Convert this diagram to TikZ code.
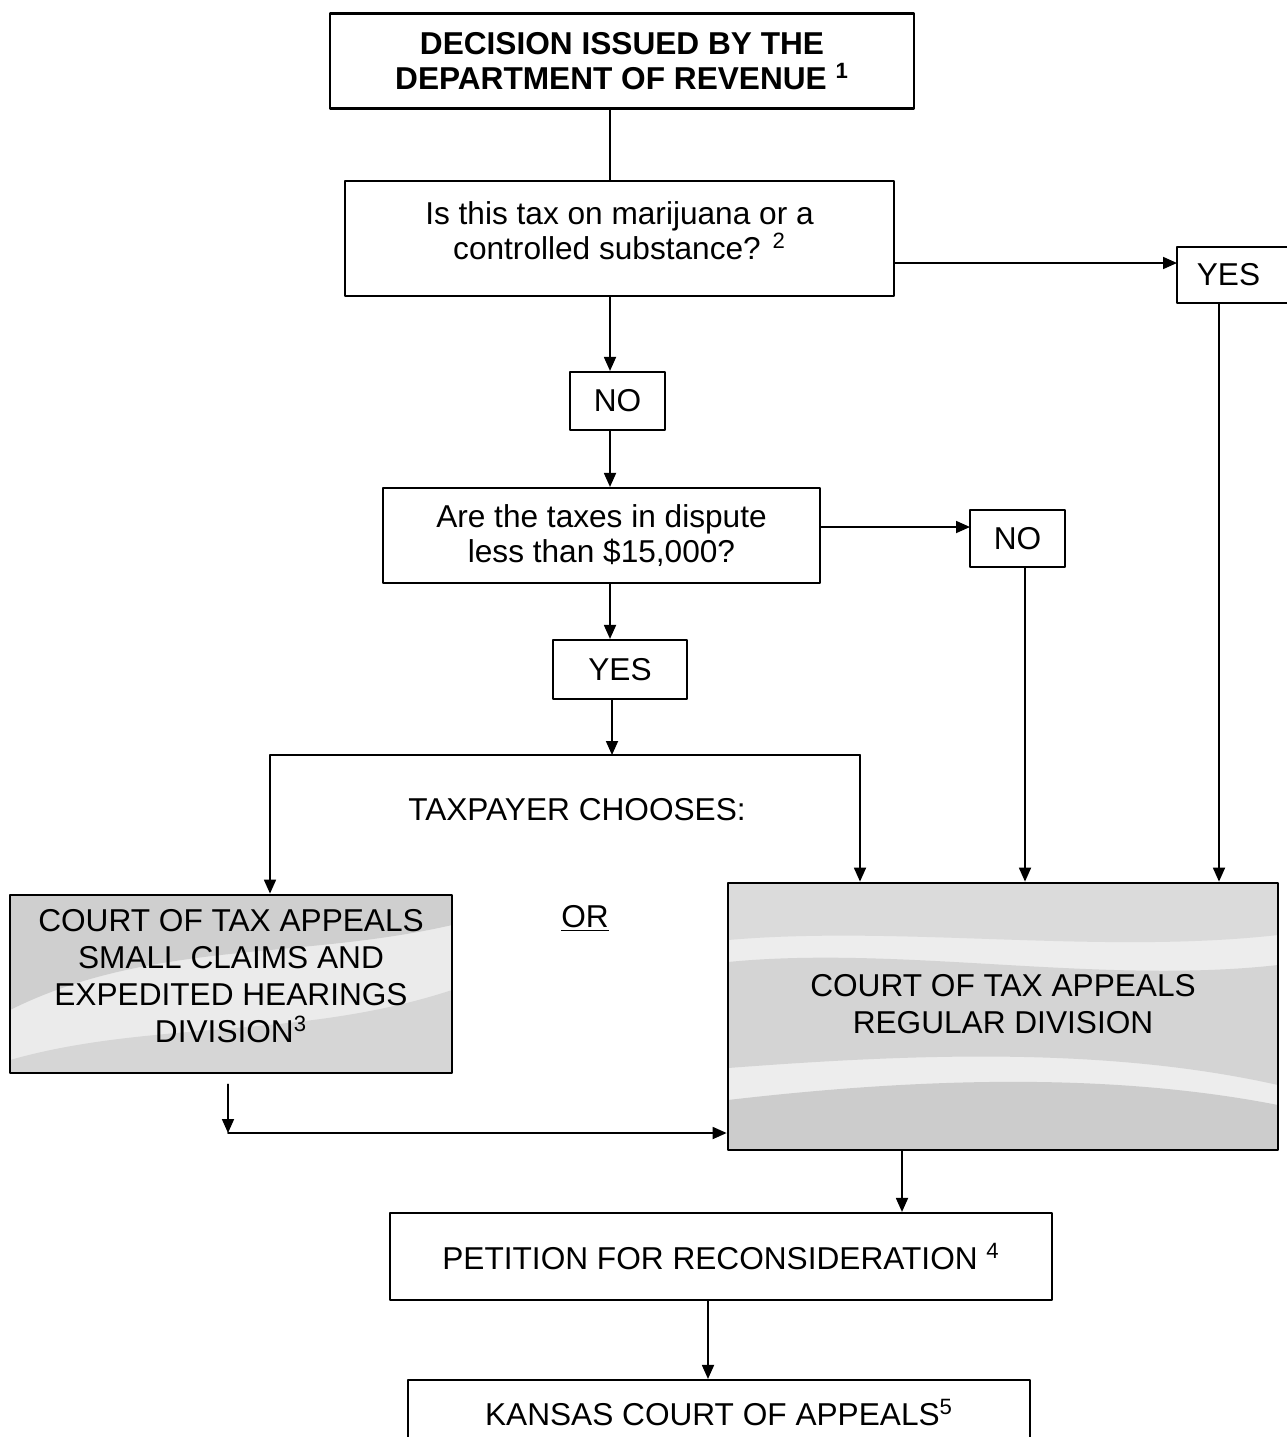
\documentclass[tikz,border=0pt]{standalone}
\usepackage{fontspec}
\setmainfont{Liberation Sans}
\usetikzlibrary{arrows.meta,calc}

\tikzset{
	box/.style={draw,line width=1.2pt,align=center,inner sep=0pt,font=\fontsize{18}{20}\selectfont},
	shadebox/.style={box,line width=1.6pt,font=\fontsize{18}{21}\selectfont},
	link/.style={line width=1pt},
}

\begin{document}
\begin{tikzpicture}[x=0.02cm,y=-0.02cm,line cap=round,line join=round,>={Triangle[length=0.28cm,width=0.24cm]}]
	\useasboundingbox (0,0) rectangle (1286,1437);
	% stippled bands of the two court boxes
	\fill[gray!16] (10,895) rectangle (452,1073);
	\fill[gray!38] (10,895) -- (452,895) -- (452,925) .. controls (300,960) and (150,940) .. (10,1010) -- cycle;
	\fill[gray!32] (10,1060) .. controls (150,1020) and (300,1040) .. (452,990) -- (452,1073) -- (10,1073) -- cycle;
	\fill[gray!14] (728,883) rectangle (1278,1150);
	\fill[gray!28] (728,883) -- (1278,883) -- (1278,935) .. controls (1100,955) and (900,925) .. (728,940) -- cycle;
	\fill[gray!34] (728,962) .. controls (900,945) and (1100,985) .. (1278,965) -- (1278,1085) .. controls (1100,1045) and (900,1055) .. (728,1068) -- cycle;
	\fill[gray!40] (728,1100) .. controls (900,1080) and (1100,1070) .. (1278,1105) -- (1278,1150) -- (728,1150) -- cycle;

	% boxes
	\node[box,font=\fontsize{18}{20}\selectfont\bfseries,minimum width=11.68cm,minimum height=1.9cm] (dec) at (622,61) {DECISION ISSUED BY THE\\DEPARTMENT OF REVENUE \textsuperscript{1}};
	\node[box,minimum width=10.98cm,minimum height=2.3cm] (subst) at (619.5,238.5) {Is this tax on marijuana or a\\controlled substance? \textsuperscript{2}\\[-0.38cm]};
	\node[box,minimum width=2.36cm,minimum height=1.12cm] (yesa) at (1236,275) {YES\hspace{0.3cm}};
	\node[box,minimum width=1.9cm,minimum height=1.16cm] (noa) at (617.5,401) {NO};
	\node[box,minimum width=8.74cm,minimum height=1.9cm] (dispute) at (601.5,535.5) {Are the taxes in dispute\\less than \$15,000?};
	\node[box,minimum width=1.9cm,minimum height=1.14cm] (nob) at (1017.5,538.5) {NO};
	\node[box,minimum width=2.68cm,minimum height=1.18cm] (yesb) at (620,669.5) {YES};
	\node[font=\fontsize{18}{20}\selectfont] (choose) at (577,810) {TAXPAYER CHOOSES:};
	\node[font=\fontsize{18}{20}\selectfont] (or) at (585,918) {\underline{OR}};
	\node[shadebox,minimum width=8.84cm,minimum height=3.56cm] (small) at (231,984) {COURT OF TAX APPEALS\\SMALL CLAIMS AND\\EXPEDITED HEARINGS\\DIVISION\textsuperscript{3}\\[-0.42cm]};
	\node[shadebox,minimum width=11cm,minimum height=5.34cm] (regular) at (1003,1016.5) {COURT OF TAX APPEALS\\REGULAR DIVISION\\[-0.22cm]};
	\node[box,minimum width=13.24cm,minimum height=1.74cm] (petition) at (721,1256.5) {PETITION FOR RECONSIDERATION \textsuperscript{4}};
	\node[box,minimum width=12.44cm,minimum height=1.3cm] (kansas) at (719,1412.5) {KANSAS COURT OF APPEALS\textsuperscript{5}};

	% lanes and bends
	\coordinate (mid) at (610,0);
	\coordinate (lanen) at (1025,0);
	\coordinate (laney) at (1219,0);
	\coordinate (toyes) at (1177,263);
	\coordinate (tono) at (970,527);
	\coordinate (fork) at (612,755);
	\coordinate (forkl) at (270,755);
	\coordinate (forkr) at (860,755);
	\coordinate (bend) at (228,1133);
	\coordinate (down) at (902,0);
	\coordinate (last) at (708,0);

	% connectors
	\draw[link] (dec.south -| mid) -- (subst.north -| mid);
	\draw[link,->] (subst.east |- toyes) -- (toyes);
	\draw[link,->] (subst.south -| mid) -- (noa.north -| mid);
	\draw[link,->] (noa.south -| mid) -- (dispute.north -| mid);
	\draw[link,->] (dispute.east |- tono) -- (tono);
	\draw[link,->] (dispute.south -| mid) -- (yesb.north -| mid);
	\draw[link,->] (yesb.south -| fork) -- (fork);
	\draw[link] (forkl) -- (forkr);
	\draw[link,->] (forkl) -- (small.north -| forkl);
	\draw[link,->] (forkr) -- (regular.north -| forkr);
	\draw[link,->] (nob.south -| lanen) -- (regular.north -| lanen);
	\draw[link,->] (yesa.south -| laney) -- (regular.north -| laney);
	\draw[link,->] ($(small.south -| bend)+(0,10)$) -- (bend);
	\draw[link,->] (bend) -- (regular.west |- bend);
	\draw[link,->] (regular.south -| down) -- (petition.north -| down);
	\draw[link,->] (petition.south -| last) -- (kansas.north -| last);
\end{tikzpicture}
\end{document}
